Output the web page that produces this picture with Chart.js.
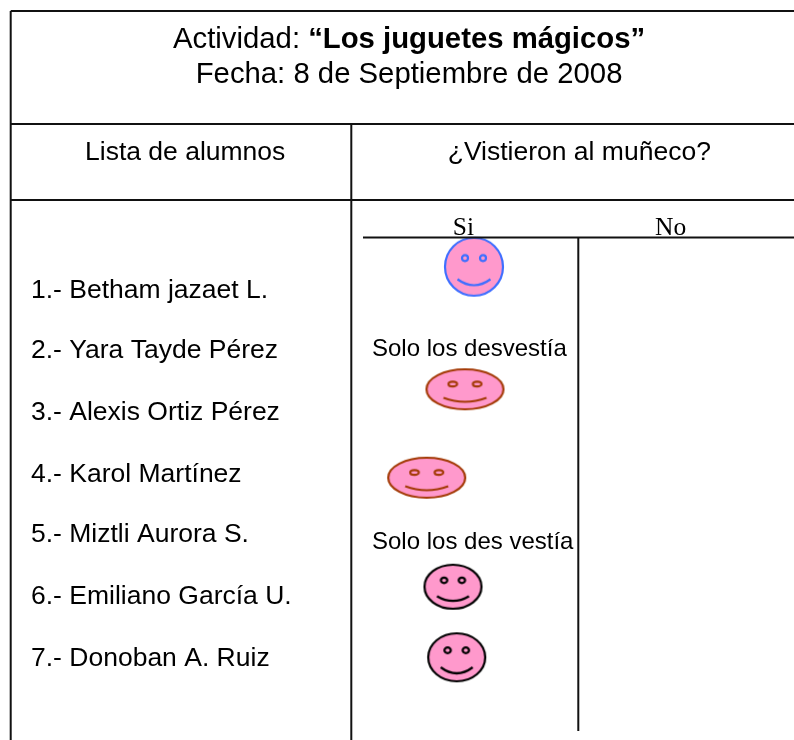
<!DOCTYPE html>
<html lang="es">
<head>
<meta charset="utf-8">
<title>Los juguetes mágicos</title>
<script src="https://cdn.jsdelivr.net/npm/chart.js@4"></script>
<style>
html,body{margin:0;padding:0;background:#fff}
#c{display:block}
</style>
</head>
<body>
<canvas id="c" width="794" height="740"></canvas>
<script>
// ---- Content ----
const activityPrefix = 'Actividad: ';
const activityName = '“Los juguetes mágicos”';
const dateLine = 'Fecha: 8 de Septiembre de 2008';
const leftHeader = 'Lista de alumnos';
const rightHeader = '¿Vistieron al muñeco?';
const answerHeaders = ['Si', 'No'];
const students = ['1.- Betham jazaet L.', '2.- Yara Tayde Pérez', '3.- Alexis Ortiz Pérez',
  '4.- Karol Martínez', '5.- Miztli Aurora S.', '6.- Emiliano García U.', '7.- Donoban A. Ruiz'];
const notes = ['Solo los desvestía', 'Solo los des vestía'];

// ---- Marks in page units (x 0-794, y 0-740) ----
const faceX = [474, 465, 426.7, 453, 456.7];
const faceY = [266.7, 389.3, 477.7, 586.7, 657.3];
const studentY = [298, 358, 420, 482, 542, 604, 666];
const noteY = [355.7, 548.5];
const ruleX = [10.7, 794, null, 10.7, 794, null, 10.7, 794, null, 363, 794, null, 10.7, 10.7, null, 351.3, 351.3, null, 578.3, 578.3];
const ruleY = [11, 11, null, 124, 124, null, 200, 200, null, 237.5, 237.5, null, 11, 740, null, 124, 740, null, 237.5, 731];

// ---- Styling of the five faces ----
const BLUE = '#3f6fff', BROWN = '#a33a06', BLACK = '#000000', PINK = '#ff99cc';
const faceStyles = [
  {rx:29,ry:29,c:BLUE,  ex:9,   ey:-8.7,erx:3,  ery:3,  mx:16.5,my:12.5,md:6},
  {rx:38.5,ry:20,c:BROWN,ex:12.2,ey:-5.3,erx:4.3,ery:2.4,mx:21.5,my:8.5,md:4},
  {rx:38.5,ry:20,c:BROWN,ex:12.2,ey:-5.3,erx:4.3,ery:2.4,mx:21.5,my:8.5,md:4},
  {rx:28.5,ry:22,c:BLACK,ex:8.9, ey:-6.4,erx:3.2,ery:2.7,mx:16,  my:9.5,md:4.7},
  {rx:28.5,ry:24,c:BLACK,ex:9.1, ey:-7,  erx:3.2,ery:2.9,mx:16,  my:10, md:6}
];
function faceCanvas(s){
  const w = Math.ceil(s.rx*2+6), h = Math.ceil(s.ry*2+6);
  const cv = document.createElement('canvas'); cv.width = w; cv.height = h;
  const g = cv.getContext('2d'); g.translate(w/2,h/2);
  g.lineWidth = 2.2; g.strokeStyle = s.c; g.fillStyle = PINK;
  g.beginPath(); g.ellipse(0,0,s.rx,s.ry,0,0,Math.PI*2); g.fill(); g.stroke();
  [-s.ex,s.ex].forEach(ex=>{ g.beginPath(); g.ellipse(ex,s.ey,s.erx,s.ery,0,0,Math.PI*2); g.stroke(); });
  g.beginPath(); g.moveTo(-s.mx,s.my); g.quadraticCurveTo(0,s.my+2*s.md,s.mx,s.my); g.stroke();
  return cv;
}

// ---- Text drawn through the chart's scales ----
const SANS = '"Liberation Sans", Arial, sans-serif', SERIF = '"Liberation Serif", "Times New Roman", serif';
const textPlugin = {
  id:'sheetText',
  afterDatasetsDraw(chart){
    const {ctx, scales:{x,y}} = chart;
    const put = (t,px,py,font)=>{ ctx.font = font; ctx.fillText(t, x.getPixelForValue(px), y.getPixelForValue(py)); return ctx.measureText(t).width; };
    ctx.save();
    ctx.fillStyle = '#000'; ctx.textBaseline = 'alphabetic'; ctx.textAlign = 'left';
    const pre = put(activityPrefix,173,48,'29.3px '+SANS);
    put(activityName,173+pre,48,'bold 29.3px '+SANS);
    put(dateLine,195.7,82.5,'29.3px '+SANS);
    put(leftHeader,85,160,'26.5px '+SANS);
    put(rightHeader,447.7,160,'26.5px '+SANS);
    put(answerHeaders[0],452.7,235,'25.5px '+SERIF);
    put(answerHeaders[1],655,235,'25.5px '+SERIF);
    students.forEach((s,i)=>put(s,31,studentY[i],'26.5px '+SANS));
    notes.forEach((s,i)=>put(s,372,noteY[i],'24px '+SANS));
    ctx.restore();
  }
};

new Chart(document.getElementById('c'),{
  type:'scatter',
  data:{datasets:[
    {label:'Reglas', showLine:true, spanGaps:false, borderColor:'#111', borderWidth:2, pointRadius:0,
     data:ruleX.map((v,i)=>({x:v,y:ruleY[i]}))},
    {label:'Caritas', showLine:false, pointStyle:faceStyles.map(faceCanvas), pointRadius:10,
     data:faceX.map((v,i)=>({x:v,y:faceY[i]}))}
  ]},
  options:{
    responsive:false, animation:false, events:[],
    layout:{padding:0,autoPadding:false},
    plugins:{legend:{display:false},tooltip:{enabled:false},title:{display:false}},
    scales:{
      x:{type:'linear',min:0,max:794,display:false},
      y:{type:'linear',min:0,max:740,reverse:true,display:false}
    }
  },
  plugins:[textPlugin,{id:'bg',beforeDraw(c){c.ctx.save();c.ctx.fillStyle='#fff';c.ctx.fillRect(0,0,c.width,c.height);c.ctx.restore();}}]
});
</script>
</body>
</html>
